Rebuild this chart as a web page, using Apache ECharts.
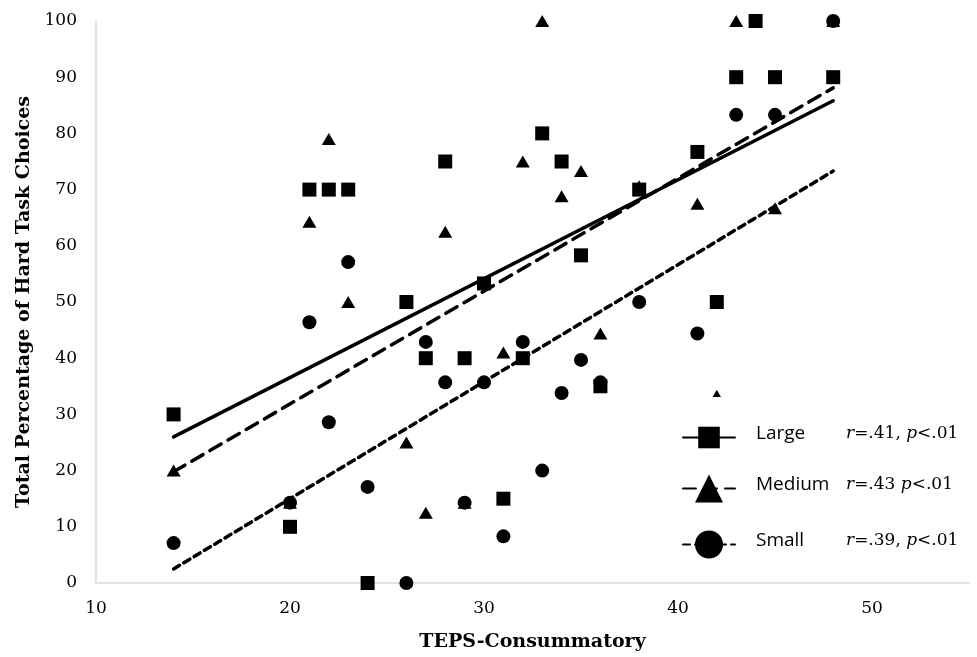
<!DOCTYPE html>
<html>
<head>
<meta charset="utf-8">
<script src="https://cdn.jsdelivr.net/npm/echarts@6/dist/echarts.min.js"></script>
<style>html,body{margin:0;padding:0;background:#fff}#chart{width:977px;height:657px}</style>
</head>
<body>
<div id="chart"></div>
<script>
// Data
const largeX  = [14, 20, 21, 22, 23, 24, 26, 27, 28, 29, 30, 31, 32, 33, 34, 35, 36, 38, 41, 42, 43, 44, 45, 48];
const largeY  = [30, 10, 70, 70, 70, 0, 50, 40, 75, 40, 53.3, 15, 40, 80, 75, 58.3, 35, 70, 76.7, 50, 90, 100, 90, 90];
const mediumX = [14, 20, 21, 22, 23, 26, 27, 28, 29, 31, 32, 33, 34, 35, 36, 38, 41, 42, 43, 45, 48];
const mediumY = [20, 14.3, 64.3, 79, 50, 25, 12.5, 62.5, 14.3, 41, 75, 100, 68.8, 73.3, 44.4, 70.6, 67.5, 33.3, 100, 66.7, 100];
const smallX  = [14, 20, 21, 22, 23, 24, 26, 27, 28, 29, 30, 31, 32, 33, 34, 35, 36, 38, 41, 43, 45, 48];
const smallY  = [7.1, 14.3, 46.4, 28.6, 57.1, 17.1, 0, 42.9, 35.7, 14.3, 35.7, 8.3, 42.9, 20, 33.8, 39.7, 35.7, 50, 44.4, 83.3, 83.3, 100];
// Trend line end points
const trendX = [14, 48];
const trendLargeY  = [26.0, 85.8];
const trendMediumY = [19.8, 88.1];
const trendSmallY  = [2.5, 73.3];
const seriesNames = ['Large', 'Medium', 'Small'];
const statTexts = ['=.41, ', '=.43 ', '=.39, '];
const xTicks = [10, 20, 30, 40, 50];
const yTicks = [0, 10, 20, 30, 40, 50, 60, 70, 80, 90, 100];

const zip = (xs, ys) => xs.map((x, i) => [x, ys[i]]);

const symbols = ['rect', 'triangle', 'circle'];
const sizes = [14, [14, 12], 14];
const dashTypes = ['solid', [13, 8], [7, 5]];
const trends = [trendLargeY, trendMediumY, trendSmallY];
const points = [zip(largeX, largeY), zip(mediumX, mediumY), zip(smallX, smallY)];

const series = [];
seriesNames.forEach((n, i) => {
  series.push({
    name: n, type: 'line', data: zip(trendX, trends[i]),
    symbol: symbols[i], showSymbol: false, z: 3, silent: true,
    lineStyle: {color: '#000', width: 3.5, type: dashTypes[i], cap: 'round'},
    itemStyle: {color: '#000'}
  });
});
seriesNames.forEach((n, i) => {
  series.push({
    name: n, type: 'scatter', data: points[i], symbol: symbols[i], symbolSize: sizes[i], z: 2,
    itemStyle: {color: '#000', opacity: 1}
  });
});

const rich = {
  g: {width: 16},
  n: {fontFamily: 'Open Sans', fontSize: 19, color: '#000', width: 90},
  r: {fontFamily: 'DejaVu Serif', fontStyle: 'italic', fontSize: 17, color: '#000'},
  s: {fontFamily: 'DejaVu Serif', fontSize: 17, color: '#000'}
};
const legendTops = [397, 472.5, 528.5];
const legendHeights = [27, 35, 35];
const legendPads = [[27, 6, 2, 7], [2, 6, 2, 7], [2, 6, 2, 7]];
const legends = seriesNames.map((n, i) => ({
  data: [n], left: 675, top: legendTops[i], orient: 'vertical',
  itemWidth: 52, itemHeight: legendHeights[i], padding: legendPads[i],
  backgroundColor: '#fff', selectedMode: false,
  formatter: name => `{g| }{n|${name}}{r|r}{s|${statTexts[i]}}{r|p}{s|<.01}`,
  textStyle: {rich: rich, padding: [0, 0, 8, 0]}
}));

const chart = echarts.init(document.getElementById('chart'));
chart.setOption({
  animation: false,
  backgroundColor: '#fff',
  grid: {left: 96, right: 8, top: 21, bottom: 74},
  xAxis: {
    type: 'value', min: xTicks[0], max: 55, interval: 10,
    name: 'TEPS-Consummatory', nameLocation: 'middle', nameGap: 50,
    nameTextStyle: {fontFamily: 'DejaVu Serif', fontWeight: 'bold', fontSize: 19, color: '#000'},
    axisLine: {lineStyle: {color: '#d9d9d9', width: 1.5}},
    axisTick: {show: false}, splitLine: {show: false},
    axisLabel: {showMaxLabel: false, margin: 17, fontFamily: 'DejaVu Serif', fontSize: 17, color: '#000',
      formatter: v => xTicks.includes(v) ? String(v) : ''}
  },
  yAxis: {
    type: 'value', min: yTicks[0], max: yTicks[yTicks.length - 1], interval: 10,
    name: 'Total Percentage of Hard Task Choices', nameLocation: 'middle', nameGap: 62,
    nameTextStyle: {fontFamily: 'DejaVu Serif', fontWeight: 'bold', fontSize: 19, color: '#000'},
    axisLine: {show: true, lineStyle: {color: '#d9d9d9', width: 1.5}},
    axisTick: {show: false}, splitLine: {show: false},
    axisLabel: {margin: 19, fontFamily: 'DejaVu Serif', fontSize: 17, color: '#000'}
  },
  legend: legends,
  series: series
});
</script>
</body>
</html>
